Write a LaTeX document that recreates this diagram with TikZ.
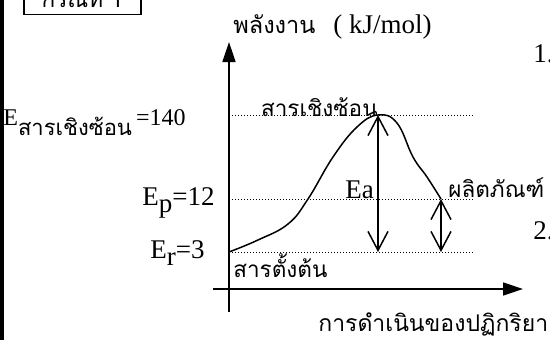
\documentclass[tikz,border=0pt]{standalone}
\usepackage{fontspec}
\setmainfont{Liberation Serif}
\newfontfamily\thaifont[Script=Thai]{Loma}
\usetikzlibrary{arrows.meta}
\tikzset{every picture/.style={line width=0.75pt}}
\newcommand{\thtext}[2][22.5]{{\fontsize{#1}{26}\thaifont #2}}

\begin{document}
\begin{tikzpicture}[x=1pt,y=-1pt,
    axis/.style={line width=1.5pt,-{Triangle[length=20pt,width=13pt]}},
    guide/.style={dotted,line width=1pt},
    gap/.style={line width=1.5pt,
        {Straight Barb[length=19pt,width=20pt]}-{Straight Barb[length=19pt,width=20pt]}},
    lbl/.style={inner sep=0pt,font=\fontsize{27}{30}\selectfont}]
    % Frame
    \useasboundingbox (0,0) rectangle (550,340);
    \clip (0,0) rectangle (550,340);
    \draw[line width=3pt] (2,0) -- (2,340);
    \node[draw,line width=1.5pt,minimum width=117pt,minimum height=36pt,
        anchor=south] (case) at (82.5,15) {\thtext{กรณีที่ 1}};

    % Axes
    \coordinate (ybot) at (229,312);
    \coordinate (ytop) at (229,42);
    \coordinate (xl) at (213,289);
    \coordinate (xr) at (523,289);
    \draw[axis] (ybot) -- (ytop);
    \draw[axis] (xl) -- (xr);

    % Energy levels
    \coordinate (ts) at (378,115);
    \coordinate (re) at (229,252);
    \coordinate (pr) at (441,199);
    \coordinate (gend) at (473,0);
    \draw[guide] (ytop |- ts) -- (gend |- ts);
    \draw[guide] (ytop |- pr) -- (gend |- pr);
    \draw[guide] (re) -- (gend |- re);

    % Reaction path
    \draw[line width=1.5pt] plot[smooth,tension=0.7] coordinates
        {(re) (258,240) (288,224) (308,199) (333,157) (357,127) (ts)
         (397,123) (413,157) (427,177) (pr)};

    % Ea and dH
    \draw[gap] (ts) -- (ts |- re);
    \draw[gap] (pr) -- (pr |- re);

    % Labels
    \node[lbl,anchor=base west] (title) at (233,33)
        {\makebox[84pt][l]{\thtext[23.5]{พลังงาน}}\hspace{16pt}( kJ/mol)};
    \node[lbl,anchor=base west,font=\fontsize{24}{26}\selectfont] (ets) at (3,125)
        {E\raisebox{-10pt}{\thtext[22]{สารเชิงซ้อน}}\,=140};
    \node[lbl,anchor=base east] (tsname) at (378,116) {\thtext{สารเชิงซ้อน}};
    \node[lbl,anchor=base west] (ea) at (345,198) {Ea};
    \node[lbl,anchor=base west] (prname) at (448,197) {\thtext{ผลิตภัณฑ์}};
    \node[lbl,anchor=base east] (ep) at (215,205) {E\raisebox{-7pt}{p}=12};
    \node[lbl,anchor=base east] (er) at (205,258) {E\raisebox{-7pt}{r}=3};
    \node[lbl,anchor=base west] (rename) at (233,277) {\thtext{สารตั้งต้น}};
    \node[lbl,anchor=base west] (xname) at (318,331) {\thtext[23]{การดำเนินของปฏิกริยา}};
    \node[lbl,anchor=base west] (one) at (533,62) {1.};
    \node[lbl,anchor=base west] (two) at (533,239) {2.};
\end{tikzpicture}
\end{document}
